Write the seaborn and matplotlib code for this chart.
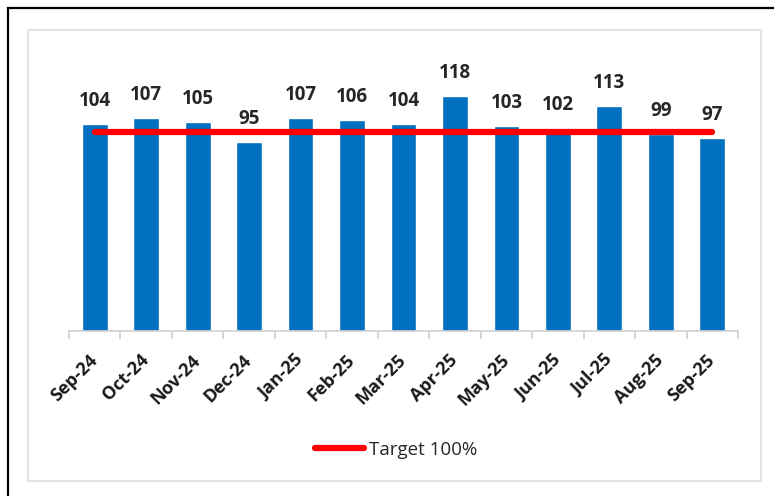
import numpy as np
import pandas as pd
import matplotlib.pyplot as plt
import seaborn as sns
from matplotlib.patches import Rectangle

# data
months = ['Sep-24', 'Oct-24', 'Nov-24', 'Dec-24', 'Jan-25', 'Feb-25', 'Mar-25',
          'Apr-25', 'May-25', 'Jun-25', 'Jul-25', 'Aug-25', 'Sep-25']
values = [104, 107, 105, 95, 107, 106, 104, 118, 103, 102, 113, 99, 97]
target = [100] * len(months)

df = pd.DataFrame({'month': months, 'value': values, 'target': target})

sns.set_style('white')
plt.rcParams['font.family'] = ['Open Sans', 'DejaVu Sans']

fig = plt.figure(figsize=(7.74, 4.96), dpi=100)
W, H = 774, 496

# frames: black outer, light gray inner
fig.patches.append(Rectangle((8 / W, -0.05), 1.0, (1 - 8 / H) + 0.05,
                             transform=fig.transFigure, fill=False,
                             edgecolor='black', linewidth=1.6, zorder=0))
fig.patches.append(Rectangle((28 / W, 1 - 481 / H), (761 - 28) / W, (481 - 30) / H,
                             transform=fig.transFigure, fill=False,
                             edgecolor='#E3E3E3', linewidth=1.5, zorder=0))

ax = fig.add_axes([69 / W, 1 - 331 / H, (738 - 69) / W, (331 - 50) / H])
ax.set_facecolor('none')

sns.barplot(data=df, x='month', y='value', color='#0070C0', width=0.5,
            saturation=1, ax=ax, zorder=2)
ax.plot(df['month'], df['target'], color='#FF0000', linewidth=4.5,
        solid_capstyle='round', label='Target 100%', zorder=3)

for i, v in enumerate(values):
    ax.annotate(str(v), (i, v), xytext=(0, 9), textcoords='offset points',
                ha='center', va='bottom', fontsize=13.5, fontweight='bold',
                color='#262626')

ax.set_ylim(0, 141)
ax.set_xlim(-0.5, len(months) - 0.5)
ax.set_yticks([])
ax.set_xlabel('')
ax.set_ylabel('')
for s in ['top', 'right', 'left']:
    ax.spines[s].set_visible(False)
ax.spines['bottom'].set_color('#D0D0D0')
ax.spines['bottom'].set_linewidth(1.2)

# tick marks between categories, labels at centers
ax.set_xticks(np.arange(len(months)))
ax.set_xticklabels(months, rotation=45, ha='right', va='center',
                   rotation_mode='anchor', fontsize=13, fontweight='bold',
                   color='#1a1a1a')
ax.tick_params(axis='x', which='major', bottom=False, length=0, pad=19)
ax.set_xticks(np.arange(-0.5, len(months)), minor=True)
ax.tick_params(axis='x', which='minor', bottom=True, length=6, width=1.2,
               color='#D0D0D0', direction='out')

fig.legend(loc='center', bbox_to_anchor=(0.512, 1 - 450 / H), frameon=False,
           prop={'size': 13.5}, handlelength=2.6, handletextpad=0.25,
           labelcolor='#262626')

fig.savefig('out.png', dpi=100)
